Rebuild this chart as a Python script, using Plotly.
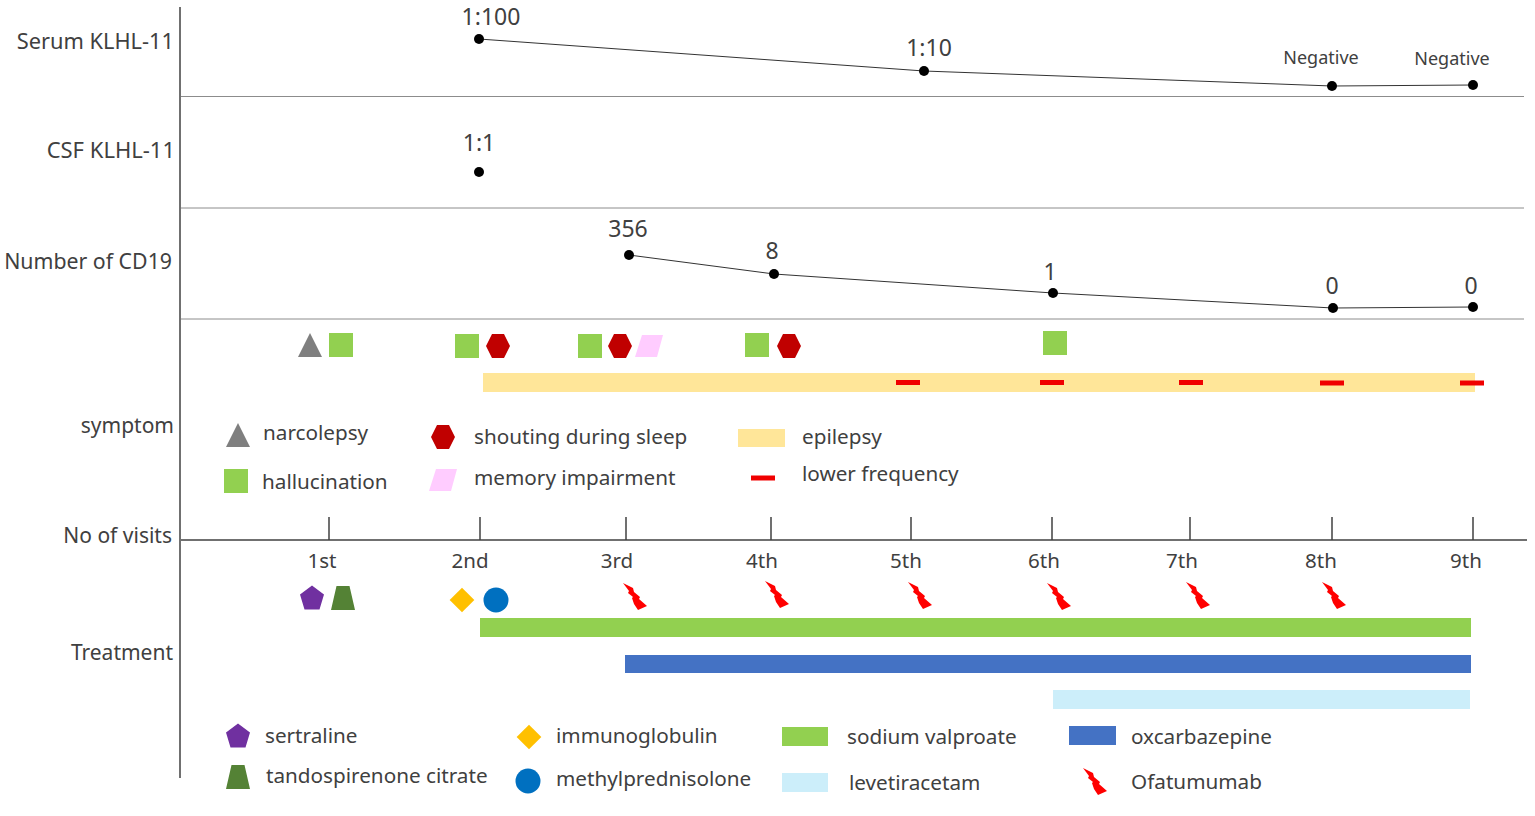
import plotly.graph_objects as go

FONT = "Noto Sans"
TEXT = "#404040"

# ---- data (axis units = image pixels) ----
visit_x = [329, 480, 626, 771, 911, 1052, 1190, 1332, 1473]
visit_labels = ["1st", "2nd", "3rd", "4th", "5th", "6th", "7th", "8th", "9th"]
visit_label_x = [322, 470, 617, 762, 906, 1044, 1182, 1321, 1466]

serum_x = [479, 924, 1332, 1473]
serum_y = [39, 71, 86, 85]
serum_text = ["1:100", "1:10", "Negative", "Negative"]
serum_text_x = [491, 929, 1321, 1452]
serum_text_y = [19, 50, 59, 60]
serum_text_size = [23, 23, 18, 18]

csf_x = [479]
csf_y = [172]
csf_text = ["1:1"]
csf_text_x = [479]
csf_text_y = [145]

cd19_x = [629, 774, 1053, 1333, 1473]
cd19_y = [255, 274, 293, 308, 307]
cd19_text = ["356", "8", "1", "0", "0"]
cd19_text_x = [628, 772, 1050, 1332, 1471]
cd19_text_y = [231, 253, 274, 288, 288]

row_labels = ["Serum KLHL-11", "CSF KLHL-11", "Number of CD19", "symptom", "No of visits", "Treatment"]
row_label_x = [174, 175, 172, 174, 172, 173]
row_label_y = [44, 152, 264, 428, 538, 655]
row_label_size = [21.8, 22, 21.3, 21, 21, 21]

separator_y = [96.5, 208, 319]

narcolepsy_x, narcolepsy_y = [310, 238], [345, 435]
hallucination_x, hallucination_y = [341, 467, 590, 757, 1055, 236], [345, 346, 346, 345, 343, 481]
shouting_x, shouting_y = [498, 620, 789, 443], [346, 346, 346, 437]
memory_x, memory_y = [649, 443], [346, 480]
sertraline_x, sertraline_y = [312, 238], [598, 736]
tandospirone_x, tandospirone_y = [343, 238], [598, 777]
immuno_x, immuno_y = [462, 529], [600, 737]
methyl_x, methyl_y = [496, 528], [600, 781]
ofatumumab_x = [635, 777, 920, 1059, 1198, 1334, 1095]
ofatumumab_y = [597, 595, 596, 597, 596, 596, 782]

# start, end, top, bottom, colour
epilepsy_span = (483, 1475, 373, 392, "#FFE699")
valproate_span = (480, 1471, 618, 637, "#92D050")
oxcarbazepine_span = (625, 1471, 655, 673, "#4472C4")
levetiracetam_span = (1053, 1470, 690, 709, "#CCEEFA")
swatches = [
    (738, 785, 429, 447, "#FFE699"),
    (782, 828, 727, 746, "#92D050"),
    (782, 828, 773, 792, "#CCEEFA"),
    (1069, 1116, 726, 745, "#4472C4"),
]
lower_freq_x = [908, 1052, 1191, 1332, 1472, 763]
lower_freq_y = [382.5, 382.5, 382.5, 383, 383, 478]
lower_freq_len = 24
lower_freq_thick = 5

legend_labels = ["narcolepsy", "hallucination", "shouting during sleep", "memory impairment",
                 "epilepsy", "lower frequency", "sertraline", "tandospirenone citrate",
                 "immunoglobulin", "methylprednisolone", "sodium valproate", "levetiracetam",
                 "oxcarbazepine", "Ofatumumab"]
legend_x = [263, 262, 474, 474, 802, 802, 265, 266, 556, 556, 847, 849, 1131, 1131]
legend_y = [435, 484, 439, 480, 439, 476, 738, 778, 738, 781, 739, 785, 739, 784]

# ---- glyph outlines (offsets from a mark's centre) ----
TRIANGLE = [(-12, 12), (0, -12), (12, 12)]
HEXAGON = [(-12, 0), (-6, -12), (6, -12), (12, 0), (6, 12), (-6, 12)]
PENTAGON = [(0, -12.5), (12, -3.5), (7.5, 11.5), (-7.5, 11.5), (-12, -3.5)]
PARALLELOGRAM = [(-14, 11), (-7, -11), (14, -11), (8, 11)]
TRAPEZOID = [(-12, 12), (-6.5, -12), (6.5, -12), (12, 12)]
BOLT = [(-12, -14), (-2, -9), (-1, -5), (5, 0), (4, 2), (12, 9), (3, 13), (-1, 7),
        (-3, 1), (-2, 0), (-7, -4), (-6, -6)]

fig = go.Figure()


def spans(rows):
    for x0, x1, top, bottom, colour in rows:
        fig.add_bar(orientation="h", x=[x1 - x0], base=[x0], y=[(top + bottom) / 2],
                    width=[bottom - top], marker=dict(color=colour, line=dict(width=0)),
                    hoverinfo="skip")


def polygons(xs, ys, outline, colour):
    px, py = [], []
    for cx, cy in zip(xs, ys):
        px += [cx + dx for dx, _ in outline] + [cx + outline[0][0], None]
        py += [cy + dy for _, dy in outline] + [cy + outline[0][1], None]
    fig.add_scatter(x=px, y=py, mode="lines", fill="toself", fillcolor=colour,
                    line=dict(width=0, color=colour), hoverinfo="skip")


def markers(xs, ys, symbol, size, colour):
    fig.add_scatter(x=xs, y=ys, mode="markers", hoverinfo="skip",
                    marker=dict(symbol=symbol, size=size, color=colour, line=dict(width=0)))


def texts(xs, ys, labels, size, pos):
    fig.add_scatter(x=xs, y=ys, mode="text", text=labels, textposition=pos, hoverinfo="skip",
                    textfont=dict(family=FONT, size=size, color=TEXT))


def rule(xs, ys, colour, width):
    fig.add_scatter(x=xs, y=ys, mode="lines", line=dict(color=colour, width=width), hoverinfo="skip")


# bars
spans([epilepsy_span, valproate_span, oxcarbazepine_span, levetiracetam_span] + swatches)
fig.add_bar(orientation="h", x=[lower_freq_len] * len(lower_freq_x),
            base=[v - lower_freq_len / 2 for v in lower_freq_x], y=lower_freq_y,
            width=[lower_freq_thick] * len(lower_freq_x),
            marker=dict(color="#F00000", line=dict(width=0)), hoverinfo="skip")

# frame
rule([180, 180], [7, 778], "#404040", 1.5)
for y in separator_y:
    rule([181, 1524], [y, y], "#8C8C8C", 1)
rule([181, 1527], [540, 540], "#404040", 1.5)
for x in visit_x:
    rule([x, x], [517, 540], "#404040", 1.5)

# series
fig.add_scatter(x=serum_x, y=serum_y, mode="lines+markers", line=dict(color="#333333", width=1),
                marker=dict(color="black", size=10), hoverinfo="skip")
fig.add_scatter(x=csf_x, y=csf_y, mode="markers", marker=dict(color="black", size=10), hoverinfo="skip")
fig.add_scatter(x=cd19_x, y=cd19_y, mode="lines+markers", line=dict(color="#333333", width=1),
                marker=dict(color="black", size=10), hoverinfo="skip")

# symbols
polygons(narcolepsy_x, narcolepsy_y, TRIANGLE, "#7F7F7F")
markers(hallucination_x, hallucination_y, "square", 24, "#92D050")
polygons(shouting_x, shouting_y, HEXAGON, "#C00000")
polygons(memory_x, memory_y, PARALLELOGRAM, "#FFCCFF")
polygons(sertraline_x, sertraline_y, PENTAGON, "#7030A0")
polygons(tandospirone_x, tandospirone_y, TRAPEZOID, "#548235")
markers(immuno_x, immuno_y, "diamond", 19, "#FFC000")
markers(methyl_x, methyl_y, "circle", 25, "#0070C0")
polygons(ofatumumab_x, ofatumumab_y, BOLT, "#FF0000")

# text
texts(row_label_x, row_label_y, row_labels, row_label_size, "middle left")
texts(visit_label_x, [562.5] * len(visit_labels), visit_labels, 20.5, "middle center")
texts(serum_text_x, serum_text_y, serum_text, serum_text_size, "middle center")
texts(csf_text_x, csf_text_y, csf_text, 23, "middle center")
texts(cd19_text_x, cd19_text_y, cd19_text, 23, "middle center")
texts(legend_x, legend_y, legend_labels, 20.7, "middle right")

fig.update_layout(
    width=1535, height=816, margin=dict(l=0, r=0, t=0, b=0),
    paper_bgcolor="white", plot_bgcolor="white", showlegend=False, barmode="overlay",
    xaxis=dict(range=[0, 1535], visible=False, fixedrange=True),
    yaxis=dict(range=[816, 0], visible=False, fixedrange=True),
)
fig.write_html("out.html", config={"displayModeBar": False, "staticPlot": True},
               post_script="document.body.style.margin='0';document.body.style.overflow='hidden';")
